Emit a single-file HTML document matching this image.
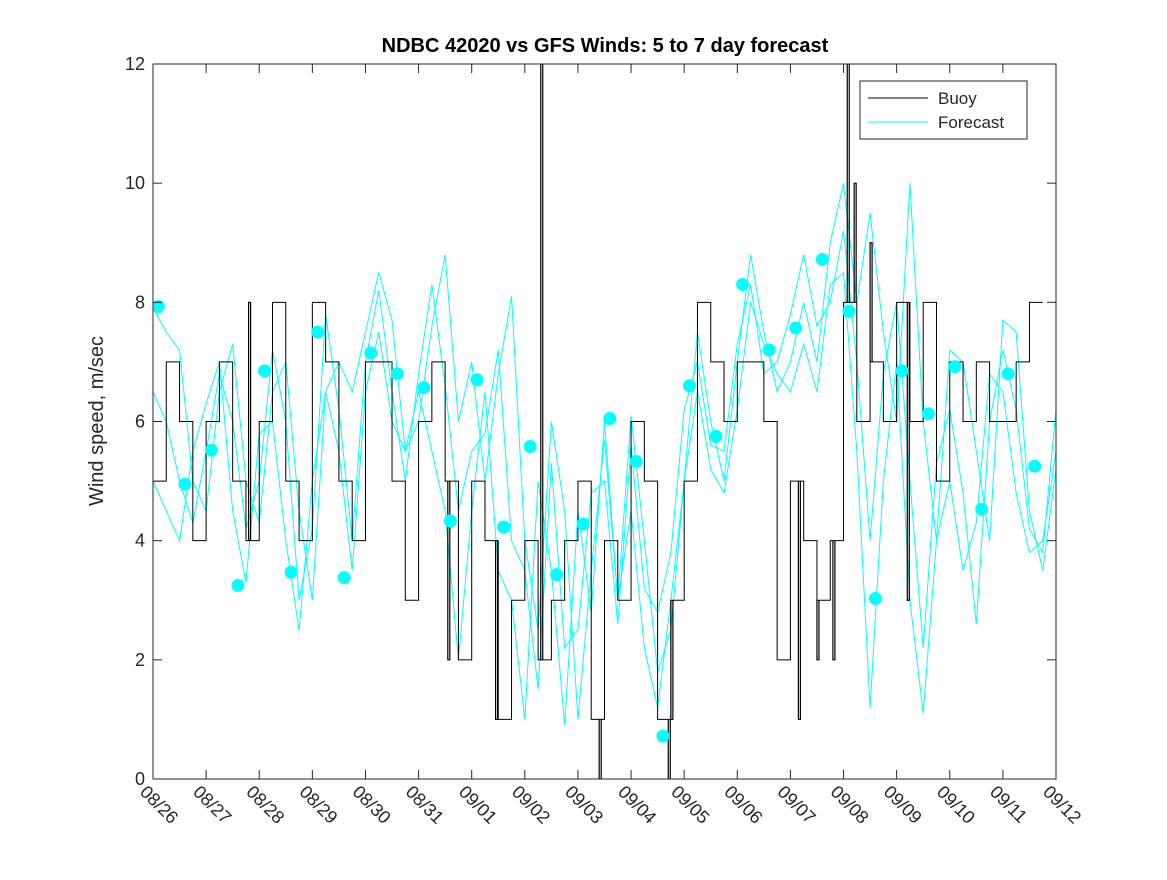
<!DOCTYPE html>
<html><head><meta charset="utf-8"><style>
body{margin:0;background:#fff;}
svg text{font-family:"Liberation Sans","DejaVu Sans",sans-serif;fill:#262626;}
</style></head><body>
<svg id="chart" width="1167" height="875" xmlns="http://www.w3.org/2000/svg">
<defs><clipPath id="clip"><rect x="153" y="64" width="903" height="715"/></clipPath></defs>
<rect x="0" y="0" width="1167" height="875" fill="#fff"/>
<text x="605" y="52" text-anchor="middle" font-size="20" font-weight="bold" style="fill:#000">NDBC 42020 vs GFS Winds: 5 to 7 day forecast</text>
<text transform="translate(103,421) rotate(-90)" text-anchor="middle" font-size="20">Wind speed, m/sec</text>
<g id="plot" clip-path="url(#clip)"></g>
<g id="axes"></g>
<g>
<rect x="860" y="81" width="167" height="58" fill="#fff" stroke="#262626" stroke-width="1"/>
<line x1="868" y1="98" x2="928" y2="98" stroke="#000" stroke-width="1"/>
<text x="938" y="104" font-size="17">Buoy</text>
<line x1="868" y1="122" x2="928" y2="122" stroke="#00ffff" stroke-width="1"/>
<text x="938" y="128" font-size="17">Forecast</text>
</g>
</svg>
<script>
const dayLabels=["08/26","08/27","08/28","08/29","08/30","08/31","09/01","09/02","09/03","09/04","09/05","09/06","09/07","09/08","09/09","09/10","09/11","09/12"];
const yTicks=[0,2,4,6,8,10,12];
const buoy=[5,7,6,4, 6,7,5,4, 6,8,5,4, 8,7,5,4, 7,7,5,3, 6,7,5,2, 5,4,1,3, 4,2,3,4, 5,1,4,3, 6,5,1,3, 5,8,7,6, 7,7,6,2, 5,4,3,4, 8,6,7,6, 8,6,8,5, 7,6,7,6, 6,7,8];
const spikeDays=[1.8,5.55,6.45,7.3,8.4,9.7,9.75,12.15,12.5,12.8,13.07,13.2,13.5,14.2];
const spikeVals=[8,2,1,12,0,0,1,1,2,2,12,10,9,3];
const fcA=[7.9,7.5,7.2,5.0, 4.5,6.5,7.3,5, 4.3,6.5,7.0,4.5, 3.0,6.5,7.0,6.5, 7.5,8.5,7.7,5.5, 6.0,7.6,8.8,6.0, 7.0,5.0,6.8,8.1, 4.0,2.5,6.0,4.5, 1.0,3.5,5.7,3.0, 6.1,4.0,1.8,2.5, 5.0,7.5,6.0,5.0, 7.0,8.8,7.5,6.5, 7.0,8.0,7.0,9.0, 10.0,8.0,9.5,7.5, 6.0,10.0,6.0,4.0, 7.2,7.0,5.5,4.0, 7.7,7.5,4.5,3.5,5.2];
const fcB=[5,4.5,4.0,5.5, 6.3,7.0,4.5,3.3, 5.8,6.0,4.0,2.5, 5.0,6.5,5.5,3.5, 6.5,7.5,6.0,5.5, 6.5,5.5,4.5,2.0, 4.5,6.5,3.5,3.0, 1.0,5.0,3.5,0.9, 4.5,2.8,6.0,3.0, 4.5,2.2,1.2,3.0, 5.0,6.5,5.2,4.8, 6.2,8.0,7.3,6.8, 6.5,7.3,6.5,8.3, 8.5,5.5,1.2,5.0, 7.0,3.0,1.1,4.0, 5.0,3.5,4.3,6.8, 6.5,4.8,3.8,4.0,5.5];
const fcC=[6.5,6.0,5.0,4.3, 5.5,6.8,6.0,4.2, 5.0,7.2,6.0,3.0, 4.2,7.8,6.2,4.0, 7.0,8.2,6.5,5.0, 6.8,8.3,6.6,4.5, 5.5,5.8,7.2,4.0, 3.5,1.5,5.3,2.2, 2.5,4.8,5.0,2.6, 5.6,3.2,2.8,3.8, 6.2,7.0,5.6,5.5, 7.3,8.3,6.8,7.0, 7.8,8.8,7.6,8.0, 9.2,7.0,4.0,6.8, 8.0,5.0,2.2,5.3, 6.2,4.8,2.6,6.0, 7.2,6.2,4.2,3.8,6.2];
const dotDays=[0.1,0.6,1.1,1.6,2.1,2.6,3.1,3.6,4.1,4.6,5.1,5.6,6.1,6.6,7.1,7.6,8.1,8.6,9.1,9.6,10.1,10.6,11.1,11.6,12.1,12.6,13.1,13.6,14.1,14.6,15.1,15.6,16.1,16.6];
const dotVals=[7.93,4.95,5.52,3.25,6.85,3.47,7.5,3.38,7.15,6.8,6.57,4.33,6.7,4.23,5.58,3.43,4.28,6.05,5.33,0.72,6.6,5.75,8.3,7.2,7.57,8.72,7.85,3.03,6.85,6.13,6.92,4.53,6.8,5.25];

const X0=153,X1=1056,Y0=779,Y1=64;
const xs=d=>X0+d*(X1-X0)/17;
const ys=v=>Y0-v*(Y0-Y1)/12;
const NS="http://www.w3.org/2000/svg";
const plot=document.getElementById('plot'),axes=document.getElementById('axes');
function mk(tag,at,parent){const e=document.createElementNS(NS,tag);for(const k in at)e.setAttribute(k,at[k]);parent.appendChild(e);return e;}

[fcA,fcB,fcC].forEach((s,i)=>{
  const p=s.map((v,j)=>xs(j*0.25)+','+ys(v)).join(' ');
  const l=mk('polyline',{points:p,fill:'none',stroke:'#00ffff','stroke-width':1},plot);
  
  
});
let pts=[];
buoy.forEach((v,j)=>{pts.push(xs(j*0.25)+','+ys(v));pts.push(xs((j+1)*0.25)+','+ys(v));});
const bl=mk('polyline',{points:pts.join(' '),fill:'none',stroke:'#000','stroke-width':1},plot);


spikeDays.forEach((d,i)=>{
  const j=Math.min(buoy.length-1,Math.floor(d/0.25));
  const s=mk('polyline',{points:`${xs(d)},${ys(buoy[j])} ${xs(d)},${ys(spikeVals[i])} ${xs(d)+2},${ys(spikeVals[i])} ${xs(d)+2},${ys(buoy[j])}`,fill:'none',stroke:'#000','stroke-width':1.2},plot);
  
  
});
dotDays.forEach((d,i)=>{
  const c=mk('circle',{cx:xs(d),cy:ys(dotVals[i]),r:6.5,fill:'#00ffff'},plot);
  
  
});
const box=mk('rect',{x:X0,y:Y1,width:X1-X0,height:Y0-Y1,fill:'none',stroke:'#262626','stroke-width':1},axes);


yTicks.forEach(v=>{
  const y=ys(v);
  mk('line',{x1:X0,y1:y,x2:X0+9,y2:y,stroke:'#262626'},axes);
  mk('line',{x1:X1,y1:y,x2:X1-9,y2:y,stroke:'#262626'},axes);
  const t=mk('text',{x:X0-8,y:y+6,'text-anchor':'end','font-size':18},axes);
  t.textContent=v;
  
  
});
dayLabels.forEach((lab,i)=>{
  const x=xs(i);
  mk('line',{x1:x,y1:Y0,x2:x,y2:Y0-9,stroke:'#262626'},axes);
  mk('line',{x1:x,y1:Y1,x2:x,y2:Y1+9,stroke:'#262626'},axes);
  const t=mk('text',{transform:`translate(${x-14},${Y0+14}) rotate(45)`,'font-size':18},axes);
  t.textContent=lab;
  
  
});
</script>
</body></html>
